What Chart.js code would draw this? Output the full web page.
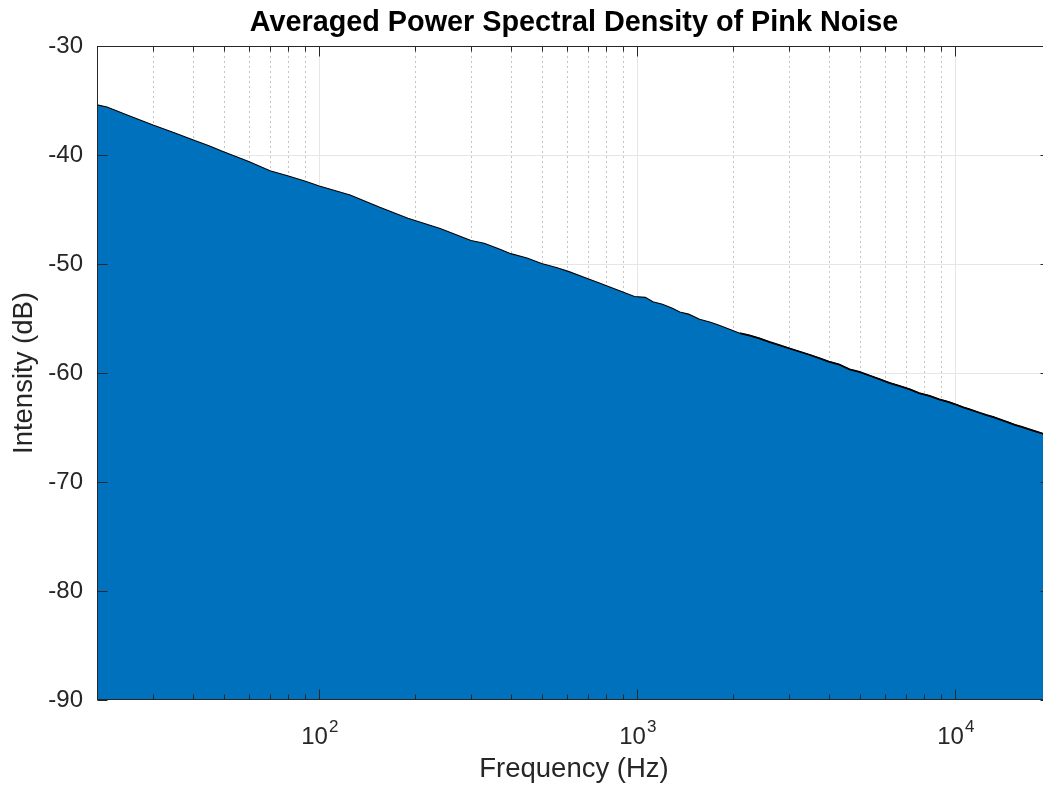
<!DOCTYPE html>
<html>
<head>
<meta charset="utf-8">
<title>Averaged Power Spectral Density of Pink Noise</title>
<script src="https://cdn.jsdelivr.net/npm/chart.js@4"></script>
<style>
  html, body { margin: 0; padding: 0; overflow: hidden; background: #fff; }
  #psd { display: block; }
</style>
</head>
<body>
<canvas id="psd" width="1148" height="785"></canvas>
<script>
// spectrum: frequency (Hz) and level (dB)
const freqs = [20, 21.5, 25, 30, 35, 40, 45, 50, 60, 70, 80, 90, 100, 125, 155, 190, 240, 300, 330, 370,
  400, 450, 500, 560, 610, 700, 760, 880, 980, 1060, 1120, 1200, 1290, 1360, 1450, 1570, 1700, 1800, 1950,
  2100, 2250, 2420, 2600, 2800, 3000, 3250, 3500, 3750, 4000, 4300, 4650, 5000, 5400, 5800, 6200, 6700,
  7200, 7700, 8300, 8900, 9500, 10000, 10600, 11100, 11800, 12500, 13200, 13800, 14600, 15400, 16200,
  17100, 18000, 18800, 19500, 20000];
const levels = [-35.4, -35.6, -36.35, -37.25, -37.95, -38.6, -39.15, -39.7, -40.6, -41.44, -41.93, -42.39,
  -42.84, -43.67, -44.8, -45.8, -46.75, -47.85, -48.1, -48.65, -49.05, -49.45, -49.95, -50.35, -50.7,
  -51.35, -51.75, -52.45, -52.98, -53.06, -53.46, -53.7, -54.07, -54.4, -54.6, -55.07, -55.35, -55.6,
  -55.99, -56.35, -56.55, -56.82, -57.15, -57.45, -57.73, -58.05, -58.35, -58.65, -58.95, -59.2, -59.66,
  -59.9, -60.25, -60.58, -60.9, -61.2, -61.5, -61.85, -62.1, -62.41, -62.65, -62.87, -63.15, -63.33,
  -63.6, -63.85, -64.05, -64.25, -64.5, -64.75, -64.95, -65.17, -65.38, -65.55, -65.7, -65.8];

const decades = [100, 1000, 10000];
const minorX = [30, 40, 50, 60, 70, 80, 90, 200, 300, 400, 500, 600, 700, 800, 900,
  2000, 3000, 4000, 5000, 6000, 7000, 8000, 9000];
const yTicks = [-90, -80, -70, -60, -50, -40, -30];

const axisColor = '#262626';
const font = '"Liberation Sans", Arial, sans-serif';

// grid behind the area, box + inward ticks + decade labels on top (matlab look)
const matlabAxes = {
  id: 'matlabAxes',
  beforeDatasetsDraw(chart) {
    const {ctx, chartArea: a, scales: {x, y}} = chart;
    ctx.save();
    ctx.lineWidth = 1;
    ctx.strokeStyle = '#c4c4c4';
    ctx.setLineDash([2, 3]);
    minorX.forEach(v => {
      const px = Math.round(x.getPixelForValue(v)) + 0.5;
      ctx.beginPath(); ctx.moveTo(px, a.top); ctx.lineTo(px, a.bottom); ctx.stroke();
    });
    ctx.setLineDash([]);
    ctx.strokeStyle = '#e6e6e6';
    decades.forEach(v => {
      const px = Math.round(x.getPixelForValue(v)) + 0.5;
      ctx.beginPath(); ctx.moveTo(px, a.top); ctx.lineTo(px, a.bottom); ctx.stroke();
    });
    yTicks.slice(1, -1).forEach(v => {
      const py = Math.round(y.getPixelForValue(v)) + 0.5;
      ctx.beginPath(); ctx.moveTo(a.left, py); ctx.lineTo(a.right, py); ctx.stroke();
    });
    ctx.restore();
  },
  afterDatasetsDraw(chart) {
    const {ctx, chartArea: a, scales: {x, y}} = chart;
    const L = Math.round(a.left) + 0.5, R = Math.round(a.right) - 0.5;
    const T = Math.round(a.top) + 0.5, B = Math.round(a.bottom) - 0.5;
    ctx.save();
    ctx.strokeStyle = axisColor;
    ctx.lineWidth = 1;
    ctx.strokeRect(L, T, R - L, B - T);
    ctx.beginPath();
    const tickX = (v, len) => {
      const px = Math.round(x.getPixelForValue(v)) + 0.5;
      ctx.moveTo(px, B); ctx.lineTo(px, B - len);
      ctx.moveTo(px, T); ctx.lineTo(px, T + len);
    };
    decades.forEach(v => tickX(v, 10));
    minorX.forEach(v => tickX(v, 5));
    yTicks.forEach(v => {
      const py = Math.round(y.getPixelForValue(v)) + 0.5;
      ctx.moveTo(L, py); ctx.lineTo(L + 10, py);
      ctx.moveTo(R, py); ctx.lineTo(R - 10, py);
    });
    ctx.stroke();

    // 10^n labels
    ctx.fillStyle = axisColor;
    ctx.textBaseline = 'alphabetic';
    decades.forEach(v => {
      const px = x.getPixelForValue(v);
      const base = '10', exp = String(Math.round(Math.log10(v)));
      ctx.font = '24px ' + font;
      const wb = ctx.measureText(base).width;
      ctx.font = '17px ' + font;
      const we = ctx.measureText(exp).width;
      const x0 = px - (wb + we) / 2;
      ctx.font = '24px ' + font;
      ctx.fillText(base, x0, 744);
      ctx.font = '17px ' + font;
      ctx.fillText(exp, x0 + wb + 1, 732);
    });
    ctx.restore();
  }
};

const points = freqs.map((f, i) => ({x: f, y: levels[i]}));
// the top edge gets heavier where the estimate is noisy
const noisyEdge = points.filter(p => p.x >= 2000);

new Chart(document.getElementById('psd'), {
  type: 'line',
  data: {
    datasets: [{
      label: 'edge',
      data: noisyEdge,
      borderColor: '#000000',
      borderWidth: 1.8,
      fill: false,
      pointRadius: 0,
      tension: 0
    }, {
      label: 'PSD',
      data: points,
      borderColor: '#000000',
      borderWidth: 1.1,
      backgroundColor: '#0072BD',
      fill: 'start',
      pointRadius: 0,
      tension: 0
    }]
  },
  options: {
    responsive: false,
    animation: false,
    layout: { padding: 0 },
    plugins: {
      legend: { display: false },
      tooltip: { enabled: false },
      title: {
        display: true,
        text: 'Averaged Power Spectral Density of Pink Noise',
        color: '#000000',
        font: { family: font, size: 28.8, weight: 'bold', lineHeight: 1.2 },
        padding: { top: 5.8, bottom: 5.64 }
      }
    },
    scales: {
      x: {
        type: 'logarithmic',
        min: 20,
        max: 20000,
        grid: { display: false, drawTicks: false },
        border: { display: false },
        ticks: { display: false },
        title: {
          display: true,
          text: 'Frequency (Hz)',
          color: axisColor,
          font: { family: font, size: 27.5, lineHeight: 1.1 },
          padding: { top: 0, bottom: 0.2 }
        },
        afterFit: s => { s.height = 85; }
      },
      y: {
        min: -90,
        max: -30,
        grid: { display: false, drawTicks: false },
        border: { display: false },
        afterBuildTicks: s => { s.ticks = yTicks.map(v => ({value: v})); },
        ticks: {
          color: axisColor,
          padding: 14,
          font: { family: font, size: 24 }
        },
        title: {
          display: true,
          text: 'Intensity (dB)',
          color: axisColor,
          font: { family: font, size: 27.5, lineHeight: 1.1 },
          padding: { top: 9.6, bottom: 0 }
        },
        afterFit: s => { s.width = 97; }
      },
      // empty right-hand box so the plot spans 97..1051 and the title centres on it
      yRight: {
        position: 'right',
        min: -90,
        max: -30,
        grid: { display: false, drawTicks: false },
        border: { display: false },
        ticks: { display: false },
        afterFit: s => { s.width = 97; }
      }
    }
  },
  plugins: [matlabAxes]
});
</script>
</body>
</html>
